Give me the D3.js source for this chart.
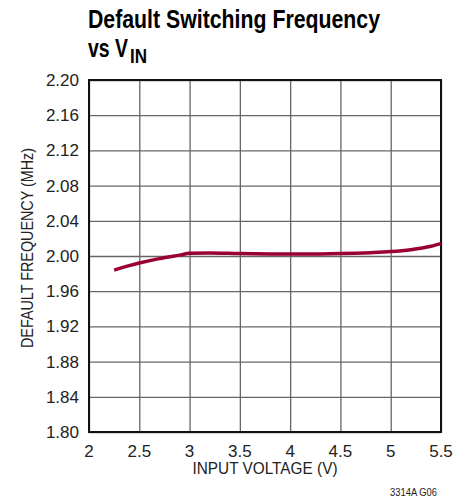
<!DOCTYPE html>
<html>
<head>
<meta charset="utf-8">
<script src="https://cdn.jsdelivr.net/npm/d3@7"></script>
<style>
  body { margin: 0; background: #fff; }
  text { font-family: "Liberation Sans", Arial, sans-serif; fill: #222; }
  .title { font-weight: bold; fill: #000; }
</style>
</head>
<body>
<div id="chart-area"></div>
<script>
// data
const voltage = [2.25, 2.4, 2.5, 2.7, 2.9, 3.0, 3.2, 3.5, 3.8, 4.0, 4.3, 4.5, 4.8, 5.0, 5.2, 5.4, 5.5]
const frequency = [1.984, 1.989, 1.992, 1.997, 2.001, 2.003, 2.0035, 2.0028, 2.0024, 2.0023, 2.0024, 2.0027, 2.0038, 2.005, 2.0072, 2.011, 2.014]
const xTicks = [2, 2.5, 3, 3.5, 4, 4.5, 5, 5.5]
const yTicks = [1.80, 1.84, 1.88, 1.92, 1.96, 2.00, 2.04, 2.08, 2.12, 2.16, 2.20]

const W = 472, H = 502
const MARGIN = { LEFT: 89, RIGHT: 31, TOP: 80, BOTTOM: 70 }
const WIDTH = W - MARGIN.LEFT - MARGIN.RIGHT
const HEIGHT = H - MARGIN.TOP - MARGIN.BOTTOM

const svg = d3.select("#chart-area")
    .append("svg")
    .attr("width", W)
    .attr("height", H)

const g = svg.append("g")
    .attr("transform", `translate(${MARGIN.LEFT}, ${MARGIN.TOP})`)

const x = d3.scaleLinear().domain([2, 5.5]).range([0, WIDTH])
const y = d3.scaleLinear().domain([1.80, 2.20]).range([HEIGHT, 0])

// grid
g.append("g")
    .call(d3.axisBottom(x).tickValues(xTicks).tickSize(-HEIGHT).tickFormat(""))
    .attr("transform", `translate(0, ${HEIGHT})`)
    .call(a => a.select(".domain").remove())
    .selectAll("line").attr("stroke", "#666").attr("stroke-width", 1.3)

g.append("g")
    .call(d3.axisLeft(y).tickValues(yTicks).tickSize(-WIDTH).tickFormat(""))
    .call(a => a.select(".domain").remove())
    .selectAll("line").attr("stroke", "#666").attr("stroke-width", 1.3)

// frame
g.append("rect")
    .attr("width", WIDTH).attr("height", HEIGHT)
    .attr("fill", "none").attr("stroke", "#111").attr("stroke-width", 2)

// tick labels
g.append("g").selectAll("text").data(yTicks).enter()
    .append("text")
    .attr("x", -10)
    .attr("y", d => y(d) + 6)
    .attr("text-anchor", "end")
    .style("font-size", "17px")
    .text(d => d.toFixed(2))

g.append("g").selectAll("text").data(xTicks).enter()
    .append("text")
    .attr("x", d => x(d))
    .attr("y", HEIGHT + 25)
    .attr("text-anchor", "middle")
    .style("font-size", "17px")
    .text(d => d)

// curve
const line = d3.line()
    .x((d, i) => x(voltage[i]))
    .y(d => y(d))
    .curve(d3.curveMonotoneX)

g.append("path")
    .datum(frequency)
    .attr("d", line)
    .attr("fill", "none")
    .attr("stroke", "#9b0033")
    .attr("stroke-width", 3.5)

// axis titles
g.append("text")
    .attr("x", WIDTH / 2)
    .attr("y", HEIGHT + 42)
    .attr("text-anchor", "middle")
    .style("font-size", "16px")
    .attr("textLength", 145)
    .attr("lengthAdjust", "spacingAndGlyphs")
    .text("INPUT VOLTAGE (V)")

g.append("text")
    .attr("transform", "rotate(-90)")
    .attr("x", -(348 - MARGIN.TOP))
    .attr("y", -56)
    .style("font-size", "16.5px")
    .attr("textLength", 200)
    .attr("lengthAdjust", "spacingAndGlyphs")
    .text("DEFAULT FREQUENCY (MHz)")

// title
svg.append("text")
    .attr("class", "title")
    .attr("x", 88)
    .attr("y", 28)
    .style("font-size", "26px")
    .attr("textLength", 292)
    .attr("lengthAdjust", "spacingAndGlyphs")
    .text("Default Switching Frequency")

const t2 = svg.append("text")
    .attr("class", "title")
    .attr("x", 88)
    .attr("y", 57)
    .style("font-size", "26px")
t2.append("tspan")
    .attr("textLength", 40)
    .attr("lengthAdjust", "spacingAndGlyphs")
    .text("vs V")
t2.append("tspan")
    .attr("x", 130)
    .attr("dy", 6)
    .style("font-size", "20px")
    .attr("textLength", 17)
    .attr("lengthAdjust", "spacingAndGlyphs")
    .text("IN")

svg.append("text")
    .attr("x", 437)
    .attr("y", 496)
    .attr("text-anchor", "end")
    .style("font-size", "10px")
    .attr("textLength", 47)
    .attr("lengthAdjust", "spacingAndGlyphs")
    .text("3314A G06")
</script>
</body>
</html>
